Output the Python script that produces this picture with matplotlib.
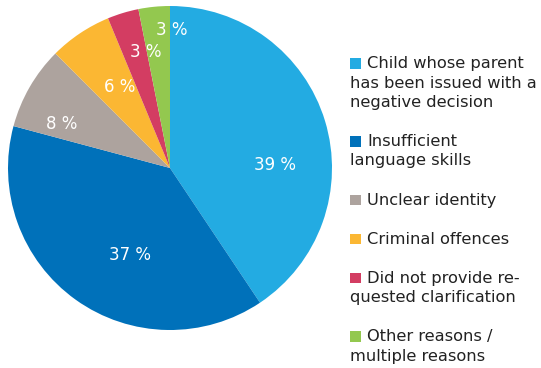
import numpy as np
import matplotlib
matplotlib.use("Agg")
import matplotlib.pyplot as plt
from matplotlib.patches import Rectangle

# Data
categories = [
    "Child whose parent\nhas been issued with a\nnegative decision",
    "Insufficient\nlanguage skills",
    "Unclear identity",
    "Criminal offences",
    "Did not provide re-\nquested clarification",
    "Other reasons /\nmultiple reasons",
]
values = [39, 37, 8, 6, 3, 3]
labels = ["39 %", "37 %", "8 %", "6 %", "3 %", "3 %"]

# Style
colors = ["#23ABE2", "#0071BA", "#ADA39E", "#FBB733", "#D33D62", "#93C84F"]
label_r = [0.65, 0.59, 0.72, 0.59, 0.73, 0.85]
label_dang = [15, -11, -8, 2, 5, 6.4]  # clockwise offsets from slice middle (deg)

W, H = 541, 368
fig = plt.figure(figsize=(W / 100, H / 100), dpi=100)
fig.patch.set_facecolor("white")

cx, cy, R = 170, 168, 162
ax = fig.add_axes([(cx - R) / W, (H - cy - R) / H, 2 * R / W, 2 * R / H])
wedges, _ = ax.pie(values, colors=colors, startangle=90, counterclock=False,
                   radius=1, wedgeprops=dict(linewidth=0))
ax.set_xlim(-1, 1)
ax.set_ylim(-1, 1)
ax.set_aspect("equal")
ax.axis("off")

for w, lab, rf, da in zip(wedges, labels, label_r, label_dang):
    mid = (w.theta1 + w.theta2) / 2 - da
    a = np.deg2rad(mid)
    ax.text(rf * np.cos(a), rf * np.sin(a), lab, color="white",
            fontsize=12, ha="center", va="center")

# Legend (manual: square inline with first line, other lines flush left)
fs = 11.7
line_px = 19.5
y = 62  # centre of first line, in pixels from top
for cat, col in zip(categories, colors):
    lines = cat.split("\n")
    fig.patches.append(Rectangle((350 / W, (H - y - 6.5) / H), 10.5 / W, 10.5 / H,
                                 transform=fig.transFigure, facecolor=col,
                                 edgecolor="none"))
    for i, ln in enumerate(lines):
        x0 = 367 if i == 0 else 349.5
        fig.text(x0 / W, (H - y) / H, ln, fontsize=fs, color="#222222",
                 ha="left", va="center_baseline")
        y += line_px
    y += line_px

fig.savefig("out.png", dpi=100)
